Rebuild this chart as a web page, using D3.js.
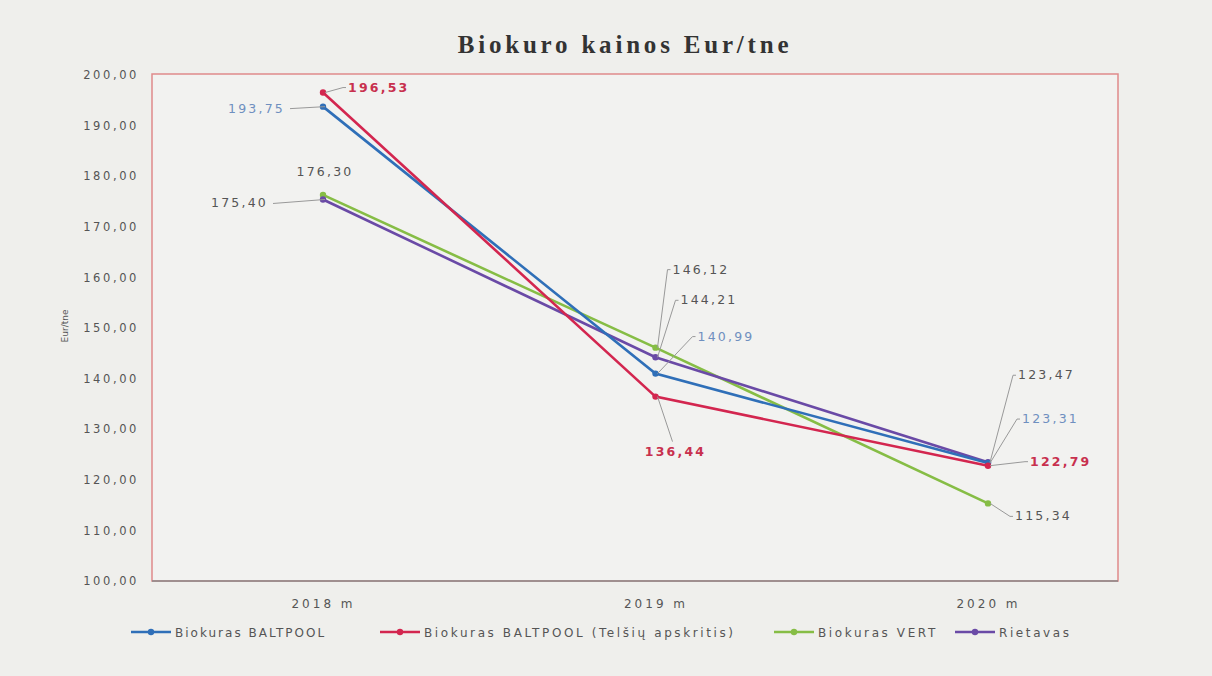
<!DOCTYPE html>
<html>
<head>
<meta charset="utf-8">
<script src="https://cdn.jsdelivr.net/npm/d3@7"></script>
<style>
  body { margin: 0; background: #efefec; }
  svg { display: block; }
</style>
</head>
<body>
<svg width="1212" height="676"></svg>
<script>
// data
var years = ["2018 m", "2019 m", "2020 m"];
var seriesNames = ["Biokuras BALTPOOL", "Biokuras BALTPOOL (Telšių apskritis)", "Biokuras VERT", "Rietavas"];
var baltpool = [193.75, 140.99, 123.31];
var baltpoolTelsiai = [196.53, 136.44, 122.79];
var vert = [176.30, 146.12, 115.34];
var rietavas = [175.40, 144.21, 123.47];
var yTicks = [100, 110, 120, 130, 140, 150, 160, 170, 180, 190, 200];

var colors = ["#2f6fb8", "#d3264f", "#86bd45", "#6a4aa6"];
var labelColors = ["#6f8fbf", "#c8304e", "#555", "#555"];

// label placement: [dx, dy, anchor, leader?] relative to each point
var labelPos = [
  [[-38, 6, "end", 1], [42, -33, "start", 1], [34, -40, "start", 1]],
  [[25, -1, "start", 1], [20, 59, "middle", 1], [42, 0, "start", 1]],
  [[2, -19, "middle", 0], [17, -74, "start", 1], [27, 17, "start", 1]],
  [[-55, 8, "end", 1], [25, -53, "start", 1], [30, -83, "start", 1]]
];

var allSeries = [baltpool, baltpoolTelsiai, vert, rietavas];

var svg = d3.select("svg"),
  width = +svg.attr("width"),
  height = +svg.attr("height");

var plot = {left: 152, right: 1118, top: 74, bottom: 581};

svg.append("rect")
  .attr("width", width).attr("height", height)
  .attr("fill", "#efefec");

svg.append("rect")
  .attr("x", plot.left).attr("y", plot.top)
  .attr("width", plot.right - plot.left).attr("height", plot.bottom - plot.top)
  .attr("fill", "#f2f2f0")
  .attr("stroke", "#e08a8a")
  .attr("stroke-width", 1.5);

var x = d3.scalePoint()
  .domain(years)
  .range([323, 988]);

var y = d3.scaleLinear()
  .domain([100, 200])
  .range([plot.bottom, plot.top + 1]);

// title
svg.append("text")
  .attr("x", 625).attr("y", 53)
  .attr("text-anchor", "middle")
  .style("font-family", "'Liberation Serif', 'Times New Roman', serif")
  .style("font-weight", "bold")
  .style("font-size", "25px")
  .style("letter-spacing", "3.8px")
  .attr("fill", "#333")
  .text("Biokuro kainos Eur/tne");

// y axis
var yAxis = svg.append("g")
  .attr("transform", "translate(" + plot.left + ",0)")
  .call(d3.axisLeft(y).tickValues(yTicks).tickSize(0).tickPadding(13)
    .tickFormat(function(d) { return d3.format(".2f")(d).replace(".", ","); }));
yAxis.select(".domain").remove();
yAxis.selectAll("text")
  .style("font-family", "'DejaVu Sans', Verdana, sans-serif")
  .style("font-size", "11.5px")
  .style("letter-spacing", "2.6px")
  .attr("fill", "#555");

svg.append("text")
  .attr("transform", "translate(68,326) rotate(-90)")
  .attr("text-anchor", "middle")
  .style("font-family", "'DejaVu Sans', sans-serif")
  .style("font-size", "9px")
  .attr("fill", "#555")
  .text("Eur/tne");

// x axis
var xAxis = svg.append("g")
  .attr("transform", "translate(0," + plot.bottom + ")")
  .call(d3.axisBottom(x).tickSize(0).tickPadding(18));
xAxis.select(".domain")
  .attr("d", "M" + plot.left + ",0H" + plot.right)
  .attr("stroke", "#888").attr("stroke-width", 1.5);
xAxis.selectAll("text")
  .style("font-family", "'DejaVu Sans', sans-serif")
  .style("font-size", "12px")
  .style("letter-spacing", "3px")
  .attr("fill", "#555");

// lines
var line = d3.line()
  .x(function(d, i) { return x(years[i]); })
  .y(function(d) { return y(d); });

var order = [2, 3, 0, 1];
order.forEach(function(s) {
  svg.append("path")
    .datum(allSeries[s])
    .attr("d", line)
    .attr("fill", "none")
    .attr("stroke", colors[s])
    .attr("stroke-width", 2.6);
  svg.selectAll(null)
    .data(allSeries[s])
    .enter().append("circle")
    .attr("cx", function(d, i) { return x(years[i]); })
    .attr("cy", function(d) { return y(d); })
    .attr("r", 3.2)
    .attr("fill", colors[s]);
});

// data labels + leader lines
allSeries.forEach(function(vals, s) {
  vals.forEach(function(v, i) {
    var px = x(years[i]), py = y(v);
    var p = labelPos[s][i];
    var tx = px + p[0], ty = py + p[1];
    if (p[3]) {
      var lx, ly;
      if (p[2] == "end") { lx = tx + 5; ly = ty - 4; }
      else if (p[2] == "middle") { lx = tx - 3; ly = ty - 14; }
      else { lx = tx - 5; ly = ty - 4; }
      svg.append("polyline")
        .attr("points", [[px + 2, py], [lx, ly], p[2] == "start" ? [lx + 3, ly] : [lx, ly]].join(" "))
        .attr("fill", "none")
        .attr("stroke", "#999")
        .attr("stroke-width", 1);
    }
    svg.append("text")
      .attr("x", tx).attr("y", ty)
      .attr("text-anchor", p[2])
      .style("font-family", "'DejaVu Sans', Verdana, sans-serif")
      .style("font-size", "12.5px")
      .style("letter-spacing", "2.2px")
      .style("font-weight", s == 1 ? "bold" : "normal")
      .attr("fill", labelColors[s])
      .text(d3.format(".2f")(v).replace(".", ","));
  });
});

// legend
var legendX = [131, 380, 774, 955];
var legend = svg.append("g").attr("transform", "translate(0,632)");
seriesNames.forEach(function(name, s) {
  var g = legend.append("g").attr("transform", "translate(" + legendX[s] + ",0)");
  g.append("line")
    .attr("x1", 0).attr("x2", 40)
    .attr("stroke", colors[s]).attr("stroke-width", 2.6);
  g.append("circle")
    .attr("cx", 20).attr("r", 3.2).attr("fill", colors[s]);
  g.append("text")
    .attr("x", 44).attr("y", 4.5)
    .style("font-family", "'DejaVu Sans', sans-serif")
    .style("font-size", "12px")
    .style("letter-spacing", s == 0 ? "2.0px" : "2.6px")
    .attr("fill", "#555")
    .text(name);
});
</script>
</body>
</html>
